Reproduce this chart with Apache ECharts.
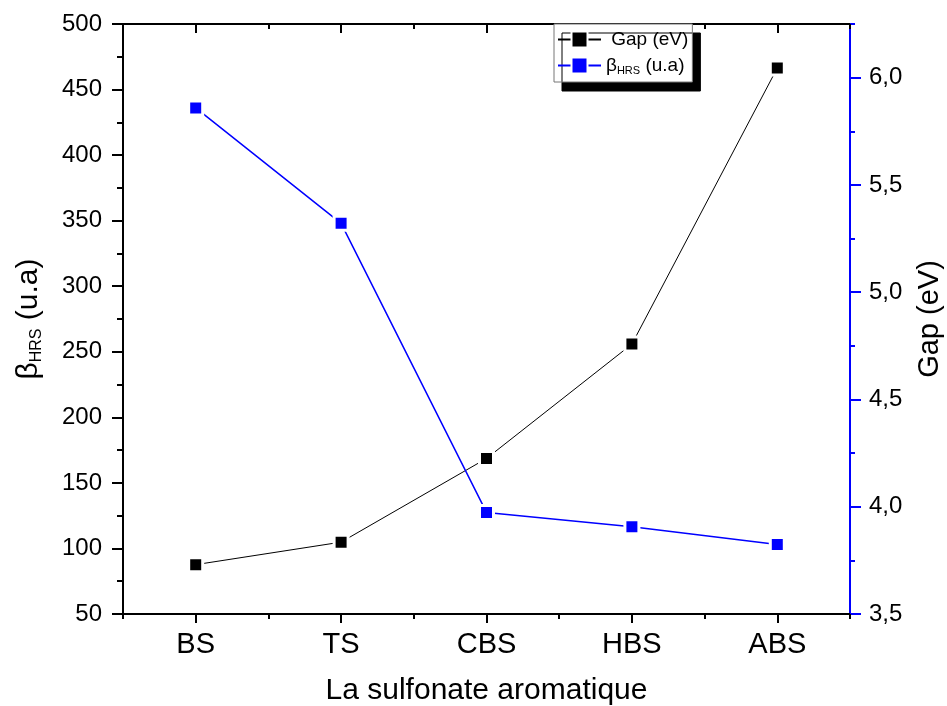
<!DOCTYPE html>
<html>
<head>
<meta charset="UTF-8">
<title>Gap et beta HRS</title>
<script src="https://cdn.jsdelivr.net/npm/echarts@6/dist/echarts.min.js"></script>
<style>
html,body{margin:0;padding:0;background:#fff;}
#chart{width:947px;height:706px;}
</style>
</head>
<body>
<div id="chart"></div>
<script type="text/javascript">
// categories (x)
var categories=['BS','TS','CBS','HBS','ABS'];
// Gap (eV) - right axis
var gapValues=[3.73,3.835,4.225,4.758,6.045];
// beta HRS (u.a) - left axis
var betaValues=[436,348,127.5,116.5,103];
// tick labels
var leftTicks=[50,100,150,200,250,300,350,400,450,500];
var rightTicks=[3.5,4.0,4.5,5.0,5.5,6.0];
var rightMinor=[3.75,4.25,4.75,5.25,5.75,6.25];

var font='"Liberation Sans", Arial, sans-serif';
var mychart=echarts.init(document.getElementById('chart'));

function catAxis(pos,major,inside,showLabel){
	return {
		type:'category',
		data:categories,
		position:pos,
		boundaryGap:true,
		axisLine:{show:true,lineStyle:{color:'#000',width:2}},
		axisTick:{show:true,alignWithLabel:major,inside:inside,length:major?9:5,lineStyle:{color:'#000',width:2}},
		axisLabel:{show:showLabel,color:'#000',fontSize:29,fontFamily:font,margin:16},
		splitLine:{show:false}
	};
}

var bottomMain=catAxis('bottom',true,false,true);
bottomMain.name='La sulfonate aromatique';
bottomMain.nameLocation='middle';
bottomMain.nameGap=62;
bottomMain.nameTextStyle={color:'#000',fontSize:30,fontFamily:font};

var option={
	animation:false,
	backgroundColor:'#fff',
	grid:{left:123,right:97,top:24,bottom:92,containLabel:false,outerBoundsMode:'none'},
	legend:{
		orient:'vertical',
		left:554,
		top:24,
		itemWidth:43,
		itemHeight:20,
		itemGap:6,
		padding:[6,4,6,3],
		backgroundColor:'#fff',
		borderColor:'#777',
		borderWidth:1,
		borderRadius:0,
		shadowColor:'#000',
		shadowBlur:0,
		shadowOffsetX:8,
		shadowOffsetY:9,
		textStyle:{color:'#000',fontSize:19,fontFamily:font,
			rich:{
				b:{fontSize:19,fontFamily:font,color:'#000'},
				s:{fontSize:11,fontFamily:font,color:'#000',lineHeight:11,padding:[10,0,0,0]}
			}
		},
		formatter:function(name){
			if(name==='Gap (eV)') return ' Gap (eV)';
			return '{b|β}{s|HRS}{b| (u.a)}';
		},
		data:['Gap (eV)','βHRS (u.a)']
	},
	xAxis:[
		bottomMain,
		catAxis('bottom',false,false,false),
		catAxis('top',true,true,false),
		catAxis('top',false,true,false)
	],
	yAxis:[
		{
			type:'value',
			position:'left',
			min:50,max:500,interval:50,
			axisLine:{show:true,lineStyle:{color:'#000',width:2}},
			axisTick:{show:true,length:11,lineStyle:{color:'#000',width:2}},
			minorTick:{show:true,splitNumber:2,length:6,lineStyle:{color:'#000',width:2}},
			axisLabel:{color:'#000',fontSize:24,fontFamily:font,margin:21},
			splitLine:{show:false},
			name:'{b|β}{s|HRS}{b| (u.a)}',
			nameLocation:'middle',
			nameRotate:90,
			nameGap:79,
			nameTextStyle:{
				rich:{
					b:{fontSize:30,fontFamily:font,color:'#000',lineHeight:30},
					s:{fontSize:16,fontFamily:font,color:'#000',lineHeight:15,padding:[15,0,0,0]}
				}
			}
		},
		{
			type:'value',
			position:'right',
			min:3.5,max:6.25,interval:0.5,
			axisLine:{show:true,lineStyle:{color:'#0000ff',width:2}},
			axisTick:{show:true,length:11,customValues:rightTicks,lineStyle:{color:'#0000ff',width:2}},
			axisLabel:{color:'#000',fontSize:24,fontFamily:font,margin:19,customValues:rightTicks,
				formatter:function(v){
					if(Math.abs(v*2-Math.round(v*2))>1e-6||v>6.1) return '';
					return v.toFixed(1).replace('.',',');
				}
			},
			splitLine:{show:false},
			name:'Gap (eV)',
			nameLocation:'middle',
			nameRotate:90,
			nameGap:65,
			nameTextStyle:{color:'#000',fontSize:29,fontFamily:font}
		},
		{
			type:'value',
			position:'right',
			min:3.5,max:6.25,
			axisLine:{show:false},
			axisTick:{show:true,length:5,customValues:rightMinor,lineStyle:{color:'#0000ff',width:2}},
			axisLabel:{show:false},
			splitLine:{show:false}
		}
	],
	series:[
		{
			name:'Gap (eV)',
			type:'line',
			xAxisIndex:0,
			yAxisIndex:1,
			data:gapValues,
			symbol:'rect',
			symbolSize:14,
			lineStyle:{color:'#000',width:1},
			itemStyle:{color:'#000',borderColor:'#fff',borderWidth:3},
			z:3
		},
		{
			name:'βHRS (u.a)',
			type:'line',
			xAxisIndex:0,
			yAxisIndex:0,
			data:betaValues,
			symbol:'rect',
			symbolSize:14,
			lineStyle:{color:'#0000ff',width:1.5},
			itemStyle:{color:'#0000ff',borderColor:'#fff',borderWidth:3},
			z:4
		}
	]
};
mychart.setOption(option);
</script>
</body>
</html>
